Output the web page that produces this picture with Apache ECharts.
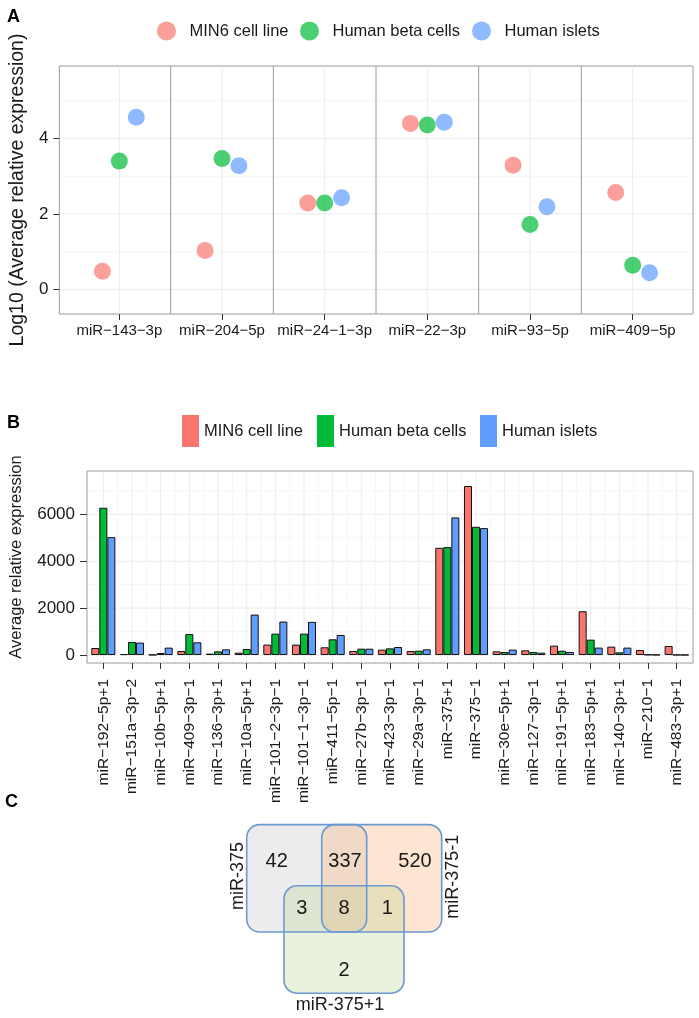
<!DOCTYPE html>
<html>
<head>
<meta charset="utf-8">
<script src="https://cdn.jsdelivr.net/npm/echarts@6/dist/echarts.min.js"></script>
<style>html,body{margin:0;padding:0;background:#fff}#c{width:699px;height:1018px}</style>
</head>
<body>
<div id="c"></div>
<script>
// ---------------- data ----------------
const groupNames = ['MIN6 cell line', 'Human beta cells', 'Human islets'];

// Panel A : log10 average relative expression
const mirA = ['miR\u2212143\u22123p', 'miR\u2212204\u22125p', 'miR\u221224\u22121\u22123p', 'miR\u221222\u22123p', 'miR\u221293\u22125p', 'miR\u2212409\u22125p'];
const logMin6   = [0.48, 1.03, 2.29, 4.40, 3.29, 2.57];
const logBeta   = [3.40, 3.47, 2.29, 4.36, 1.72, 0.64];
const logIslets = [4.56, 3.28, 2.43, 4.43, 2.19, 0.44];
const yTicksA = [0, 2, 4];
const yMinorA = [1, 3, 5];

// Panel B : average relative expression
const mirB = ['miR\u2212192\u22125p+1', 'miR\u2212151a\u22123p\u22122', 'miR\u221210b\u22125p+1', 'miR\u2212409\u22123p\u22121', 'miR\u2212136\u22123p+1', 'miR\u221210a\u22125p+1', 'miR\u2212101\u22122\u22123p\u22121', 'miR\u2212101\u22121\u22123p\u22121', 'miR\u2212411\u22125p\u22121', 'miR\u221227b\u22123p\u22121', 'miR\u2212423\u22123p\u22121', 'miR\u221229a\u22123p\u22121', 'miR\u2212375+1', 'miR\u2212375\u22121', 'miR\u221230e\u22125p+1', 'miR\u2212127\u22123p\u22121', 'miR\u2212191\u22125p+1', 'miR\u2212183\u22125p+1', 'miR\u2212140\u22123p+1', 'miR\u2212210\u22121', 'miR\u2212483\u22123p+1'];
const exprMin6   = [300, 40, 10, 171, 60, 100, 444, 444, 330, 171, 230, 171, 4573, 7209, 157, 200, 400, 1868, 358, 215, 386];
const exprBeta   = [6282, 556, 85, 897, 157, 256, 912, 912, 670, 271, 285, 185, 4602, 5470, 128, 128, 185, 656, 115, 20, 8];
const exprIslets = [5030, 530, 316, 543, 243, 1726, 1427, 1413, 855, 271, 342, 243, 5870, 5414, 230, 100, 130, 316, 316, 10, 5];
const yTicksB = [0, 2000, 4000, 6000];
const yMinorB = [1000, 3000, 5000, 7000];

// Panel C : Venn diagram
const vennSetNames = ['miR-375', 'miR-375-1', 'miR-375+1'];
const vennRegions  = ['375 only', '375 & 375-1', '375-1 only', '375 & 375+1', 'all', '375-1 & 375+1', '375+1 only'];
const vennCounts   = [42, 337, 520, 3, 8, 1, 2];

// ---------------- styling / layout ----------------
const FONT = "'Liberation Sans', Arial, Helvetica, sans-serif";
const TXT = '#1a1a1a';
const colors = ['#F8766D', '#00BA38', '#619CFF'];
const dodgeA = [-0.165, 0, 0.165];
const MAJOR = '#EBEBEB', MINOR = '#F6F6F6', BORDER = '#9A9A9A';

const vennLayout = {
  rects: [[46.7, 45, 166.7, 153.3], [121.7, 45, 241.7, 153.3], [84, 106.7, 204, 215]],
  fills: ['rgba(200,200,210,0.35)', 'rgba(250,190,140,0.4)', 'rgba(185,210,140,0.3)'],
  labelPos: [[38, 96.7, Math.PI / 2], [253.5, 97.5, Math.PI / 2], [140, 226.5, 0]],
  countPos: [[76.7, 81.7], [145, 81.7], [215, 81.7], [101.7, 130], [144, 130], [187.3, 130], [144, 192.3]]
};

const chart = echarts.init(document.getElementById('c'), null, {renderer: 'canvas'});

function hGrid(params, api) {
  const cs = params.coordSys;
  const y = api.coord([0, api.value(1)])[1];
  return {type: 'line', silent: true,
    shape: {x1: cs.x + 1, y1: y, x2: cs.x + cs.width - 1, y2: y},
    style: {stroke: api.value(2) === 1 ? MAJOR : MINOR, lineWidth: 1}};
}
function vLineValue(color) {
  return function (params, api) {
    const cs = params.coordSys;
    const x = api.coord([api.value(0), 0])[0];
    return {type: 'line', silent: true,
      shape: {x1: x, y1: cs.y, x2: x, y2: cs.y + cs.height},
      style: {stroke: color, lineWidth: 1}};
  };
}
function vGridB(params, api) {
  const cs = params.coordSys;
  const i = api.value(0);
  const x = api.coord([i, 0])[0];
  const band = api.size([1, 0])[0];
  const children = [{type: 'line', shape: {x1: x, y1: cs.y + 1, x2: x, y2: cs.y + cs.height - 1}, style: {stroke: MAJOR, lineWidth: 1}}];
  if (i < mirB.length - 1) {
    const xb = x + band / 2;
    children.push({type: 'line', shape: {x1: xb, y1: cs.y + 1, x2: xb, y2: cs.y + cs.height - 1}, style: {stroke: MINOR, lineWidth: 1}});
  }
  return {type: 'group', silent: true, children};
}

const scatterSeries = [logMin6, logBeta, logIslets].map((vals, k) => ({
  type: 'scatter', name: groupNames[k], xAxisIndex: 2, yAxisIndex: 1, z: 4,
  symbol: 'circle', symbolSize: 17,
  itemStyle: {color: colors[k], opacity: 0.7},
  data: vals.map((v, i) => [i + dodgeA[k], v])
}));

const barSeries = [exprMin6, exprBeta, exprIslets].map((vals, k) => ({
  type: 'bar', name: groupNames[k], xAxisIndex: 4, yAxisIndex: 3, z: 3,
  barGap: '0%', barCategoryGap: '16%',
  itemStyle: {color: colors[k], borderColor: '#111', borderWidth: 1},
  data: vals
}));

const legendA = [157, 300, 472].map((left, k) => ({
  left, top: 21.5, padding: 0, selectedMode: false, itemWidth: 36, itemHeight: 19,
  textStyle: {fontFamily: FONT, fontSize: 16.5, color: TXT},
  data: [{name: groupNames[k], icon: 'circle', itemStyle: {color: colors[k], opacity: 0.7}}]
}));
const legendB = [182, 317, 480].map((left, k) => ({
  left, top: 415, padding: 0, selectedMode: false, itemWidth: 17, itemHeight: 32, itemGap: 0,
  textStyle: {fontFamily: FONT, fontSize: 16.5, color: TXT},
  data: [{name: groupNames[k], icon: 'rect', itemStyle: {color: colors[k], opacity: 1, borderWidth: 0}}]
}));

const option = {
  animation: false,
  backgroundColor: '#fff',
  textStyle: {fontFamily: FONT},
  legend: legendA.concat(legendB),
  graphic: [
    {type: 'text', left: 7, top: 8, style: {text: 'A', font: 'bold 18px ' + FONT, fill: '#000'}},
    {type: 'text', left: 7, top: 414, style: {text: 'B', font: 'bold 18px ' + FONT, fill: '#000'}},
    {type: 'text', left: 5, top: 793, style: {text: 'C', font: 'bold 18px ' + FONT, fill: '#000'}}
  ],
  grid: [
    {left: 58, top: 66, width: 635, height: 248, show: true, borderColor: BORDER, borderWidth: 1, backgroundColor: '#fff'},
    {left: 68, top: 66, width: 616, height: 248},
    {left: 87, top: 471, width: 606, height: 192, show: true, borderColor: BORDER, borderWidth: 1, backgroundColor: '#fff'},
    {left: 89, top: 471, width: 602, height: 192},
    {left: 200, top: 780, width: 300, height: 240}
  ],
  xAxis: [
    {gridIndex: 0, type: 'value', min: 0, max: 1, show: false},
    {gridIndex: 1, type: 'category', data: mirA,
      axisLine: {show: false, onZero: false}, splitLine: {show: false},
      axisTick: {show: true, alignWithLabel: true, length: 6, lineStyle: {color: '#333'}},
      axisLabel: {interval: 0, margin: 9, fontSize: 15, color: TXT, fontFamily: FONT}},
    {gridIndex: 1, type: 'value', min: -0.5, max: 5.5, show: false},
    {gridIndex: 2, type: 'value', min: 0, max: 1, show: false},
    {gridIndex: 3, type: 'category', data: mirB,
      axisLine: {show: false, onZero: false}, splitLine: {show: false},
      axisTick: {show: true, alignWithLabel: true, length: 6, lineStyle: {color: '#333'}},
      axisLabel: {interval: 0, rotate: 90, margin: 16, fontSize: 15.5, color: TXT, fontFamily: FONT}},
    {gridIndex: 4, type: 'value', min: 0, max: 300, show: false}
  ],
  yAxis: [
    {gridIndex: 0, type: 'value', min: -0.65, max: 5.92,
      name: 'Log10 (Average relative expression)', nameLocation: 'middle', nameGap: 31, nameRotate: 90,
      nameTextStyle: {fontSize: 19.5, color: TXT, fontFamily: FONT},
      axisLine: {show: false}, splitLine: {show: false},
      axisTick: {show: true, length: 6, customValues: yTicksA, lineStyle: {color: '#333'}},
      axisLabel: {customValues: yTicksA, margin: 11, fontSize: 17, color: TXT, fontFamily: FONT,
        formatter: v => (yTicksA.indexOf(v) >= 0 ? String(v) : '')}},
    {gridIndex: 1, type: 'value', min: -0.65, max: 5.92, show: false},
    {gridIndex: 2, type: 'value', min: -340, max: 7850,
      name: 'Average relative expression', nameLocation: 'middle', nameGap: 62, nameRotate: 90,
      nameTextStyle: {fontSize: 16.5, color: TXT, fontFamily: FONT, padding: [0, 0, 0, 20]},
      axisLine: {show: false}, splitLine: {show: false},
      axisTick: {show: true, length: 7, customValues: yTicksB, lineStyle: {color: '#333'}},
      axisLabel: {customValues: yTicksB, margin: 12, fontSize: 17, color: TXT, fontFamily: FONT,
        formatter: v => (yTicksB.indexOf(v) >= 0 ? String(v) : '')}},
    {gridIndex: 3, type: 'value', min: -340, max: 7850, show: false},
    {gridIndex: 4, type: 'value', min: 0, max: 240, inverse: true, show: false}
  ],
  series: [
    // Panel A gridlines
    {type: 'custom', xAxisIndex: 0, yAxisIndex: 0, z: 1, silent: true, renderItem: hGrid,
      data: yTicksA.map(v => [0, v, 1]).concat(yMinorA.map(v => [0, v, 0]))},
    {type: 'custom', xAxisIndex: 2, yAxisIndex: 1, z: 1, silent: true, renderItem: vLineValue(MAJOR),
      data: mirA.map((_, i) => [i, 0])},
    {type: 'custom', xAxisIndex: 2, yAxisIndex: 1, z: 2, silent: true, renderItem: vLineValue(BORDER),
      data: mirA.slice(1).map((_, i) => [i + 0.5, 0])},
    ...scatterSeries,
    // Panel B gridlines
    {type: 'custom', xAxisIndex: 3, yAxisIndex: 2, z: 1, silent: true, renderItem: hGrid,
      data: yTicksB.map(v => [0, v, 1]).concat(yMinorB.map(v => [0, v, 0]))},
    {type: 'custom', xAxisIndex: 4, yAxisIndex: 3, z: 1, silent: true, renderItem: vGridB,
      data: mirB.map((_, i) => [i, 0])},
    ...barSeries,
    // Panel C venn
    {type: 'custom', xAxisIndex: 5, yAxisIndex: 4, z: 2, silent: true,
      data: vennSetNames.map((_, i) => [i, 0]),
      renderItem: (params, api) => {
        const r = vennLayout.rects[api.value(0)];
        const p0 = api.coord([r[0], r[1]]), p1 = api.coord([r[2], r[3]]);
        return {type: 'rect', shape: {x: p0[0], y: p0[1], width: p1[0] - p0[0], height: p1[1] - p0[1], r: 13},
          style: {fill: vennLayout.fills[api.value(0)]}};
      }},
    {type: 'custom', xAxisIndex: 5, yAxisIndex: 4, z: 3, silent: true,
      data: vennSetNames.map((_, i) => [i, 0]),
      renderItem: (params, api) => {
        const i = api.value(0);
        const r = vennLayout.rects[i];
        const p0 = api.coord([r[0], r[1]]), p1 = api.coord([r[2], r[3]]);
        const lp = vennLayout.labelPos[i];
        const q = api.coord([lp[0], lp[1]]);
        return {type: 'group', children: [
          {type: 'rect', shape: {x: p0[0], y: p0[1], width: p1[0] - p0[0], height: p1[1] - p0[1], r: 13},
            style: {fill: 'none', stroke: '#6B9AD0', lineWidth: 1.6}},
          {type: 'text', x: q[0], y: q[1], rotation: lp[2],
            style: {text: vennSetNames[i], fontSize: 18, fontFamily: FONT, fill: TXT, align: 'center', verticalAlign: 'middle'}}
        ]};
      }},
    {type: 'custom', xAxisIndex: 5, yAxisIndex: 4, z: 4, silent: true,
      data: vennCounts.map((c, i) => [i, c]),
      renderItem: (params, api) => {
        const i = api.value(0);
        const p = vennLayout.countPos[i];
        const q = api.coord([p[0], p[1]]);
        return {type: 'text', x: q[0], y: q[1],
          style: {text: String(api.value(1)), fontSize: 20, fontFamily: FONT, fill: TXT, align: 'center', verticalAlign: 'middle'}};
      }}
  ]
};
chart.setOption(option);
</script>
</body>
</html>
